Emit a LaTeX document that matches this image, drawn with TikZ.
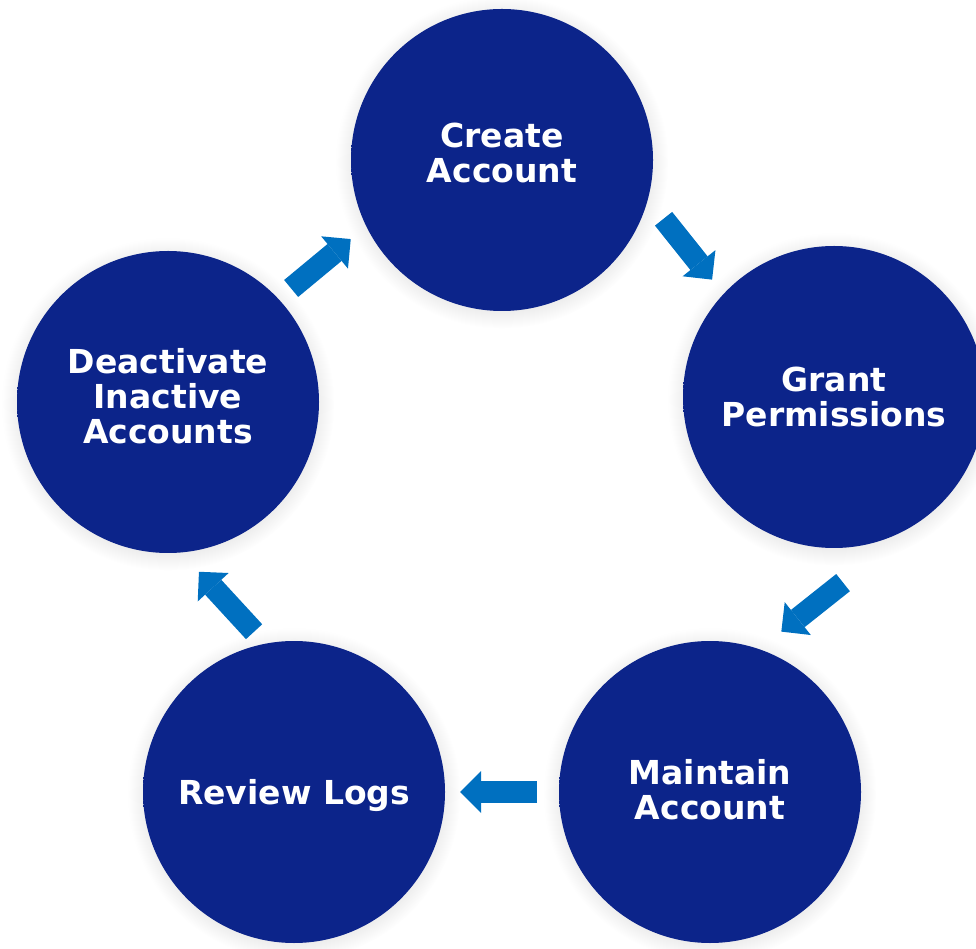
\documentclass[tikz,border=0pt]{standalone}
\usepackage{fontspec}
\setmainfont{DejaVu Sans}
\usetikzlibrary{arrows.meta,shadows}
\definecolor{discbody}{RGB}{12,36,138}
\definecolor{discrim}{RGB}{52,82,186}
\definecolor{flowblue}{RGB}{0,112,192}
\pgfdeclareradialshading{disc}{\pgfpoint{0bp}{0bp}}{color(0bp)=(discbody); color(45bp)=(discbody); color(49bp)=(discrim); color(50bp)=(discrim)}
\tikzset{
  stage/.style={circle, minimum size=302pt, inner sep=0pt, outer sep=0pt,
    shading=disc, text=white, align=center,
    font=\fontsize{33}{35}\selectfont\bfseries,
    circular drop shadow={shadow xshift=0pt, shadow yshift=-2pt, opacity=0.2}},
  flow/.style={draw=flowblue, line width=22pt,
    -{Triangle[width=42pt,length=21pt,line width=0pt]}}
}
\begin{document}
\begin{tikzpicture}[x=1pt,y=1pt]
\useasboundingbox (0,0) rectangle (976,948);
\node [stage, text depth=14pt] (create) at (502,788) {Create\\Account};
\node [stage] (grant) at (834,551) {Grant\\Permissions};
\node [stage, text depth=6pt] (maintain) at (710,156) {Maintain\\Account};
\node [stage, text height=33pt] (review) at (294,156) {Review Logs};
\node [stage, text depth=12pt] (deactivate) at (168,546) {Deactivate\\Inactive\\Accounts};
\draw [flow, shorten <=25.2pt, shorten >=18.4pt] (create.-15.5) -- (grant.137.1);
\draw [flow, shorten <=109.8pt, shorten >=28.3pt] (grant.-51.8) -- (maintain.71.5);
\draw [flow, shorten <=22pt, shorten >=15pt] (maintain.west) -- (review.east);
\draw [flow, shorten <=16.4pt, shorten >=26.3pt] (review.101.8) -- (deactivate.-85.3);
\draw [flow, shorten <=16.5pt, shorten >=20.2pt] (deactivate.43.8) -- (create.-154.6);
\end{tikzpicture}
\end{document}
